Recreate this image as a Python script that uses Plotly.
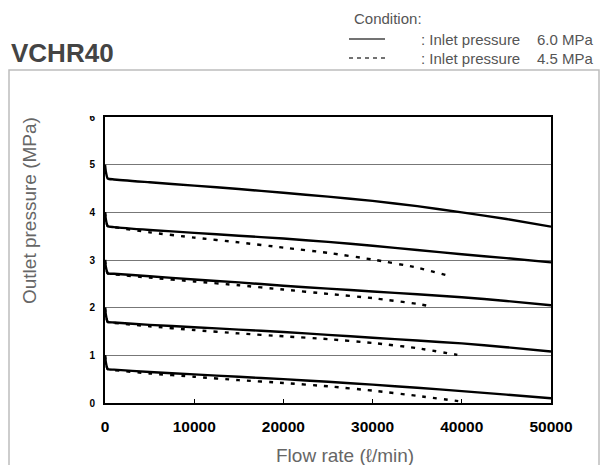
import plotly.graph_objects as go

# ---------------- data ----------------
flow_60 = [0, 100, 300, 1000, 5000, 10000, 15000, 20000, 25000, 30000, 35000, 40000, 45000, 50000]
p60_set5 = [5.0, 4.85, 4.71, 4.69, 4.63, 4.56, 4.49, 4.41, 4.33, 4.24, 4.13, 4.00, 3.86, 3.70]
p60_set4 = [4.0, 3.85, 3.71, 3.69, 3.63, 3.57, 3.51, 3.45, 3.38, 3.30, 3.21, 3.12, 3.04, 2.95]
p60_set3 = [3.0, 2.85, 2.72, 2.71, 2.66, 2.59, 2.53, 2.46, 2.40, 2.34, 2.28, 2.22, 2.14, 2.05]
p60_set2 = [2.0, 1.85, 1.70, 1.69, 1.64, 1.59, 1.54, 1.49, 1.43, 1.37, 1.31, 1.25, 1.17, 1.08]
p60_set1 = [1.0, 0.85, 0.71, 0.70, 0.65, 0.60, 0.55, 0.50, 0.445, 0.385, 0.32, 0.25, 0.175, 0.10]

flow_45_set4 = [0, 100, 300, 1000, 5000, 10000, 15000, 20000, 25000, 30000, 35000, 38900]
p45_set4 = [4.0, 3.85, 3.71, 3.69, 3.58, 3.47, 3.37, 3.26, 3.15, 3.01, 2.84, 2.65]
flow_45_set3 = [0, 100, 300, 1000, 5000, 10000, 15000, 20000, 25000, 30000, 35000, 36700]
p45_set3 = [3.0, 2.85, 2.72, 2.70, 2.63, 2.55, 2.47, 2.38, 2.29, 2.20, 2.08, 2.02]
flow_45_set2 = [0, 100, 300, 1000, 5000, 10000, 15000, 20000, 25000, 30000, 35000, 39500]
p45_set2 = [2.0, 1.85, 1.70, 1.68, 1.61, 1.53, 1.46, 1.40, 1.34, 1.26, 1.15, 1.01]
flow_45_set1 = [0, 100, 300, 1000, 5000, 10000, 15000, 20000, 25000, 30000, 35000, 39600]
p45_set1 = [1.0, 0.85, 0.71, 0.69, 0.62, 0.55, 0.48, 0.42, 0.35, 0.26, 0.15, 0.04]

x_ticks = [0, 10000, 20000, 30000, 40000, 50000]
y_ticks = [0, 1, 2, 3, 4, 5, 6]

# ---------------- figure ----------------
W, H = 606, 465
L, R, T, B = 105, 55, 117, 62
PW, PH = W - L - R, H - T - B


def px(x):
    return (x - L) / PW


def py(y):
    return (H - B - y) / PH


fig = go.Figure()

solid = [p60_set5, p60_set4, p60_set3, p60_set2, p60_set1]
for s in solid:
    fig.add_trace(go.Scatter(x=flow_60, y=s, mode="lines",
                             line=dict(color="black", width=2.4, shape="spline", smoothing=0.5),
                             showlegend=False, hoverinfo="skip"))

dashed = [(flow_45_set4, p45_set4), (flow_45_set3, p45_set3),
          (flow_45_set2, p45_set2), (flow_45_set1, p45_set1)]
for fx, fy in dashed:
    fig.add_trace(go.Scatter(x=fx, y=fy, mode="lines",
                             line=dict(color="black", width=2.4, dash="4px,7px", shape="spline", smoothing=0.5),
                             showlegend=False, hoverinfo="skip"))

fig.update_layout(
    width=W, height=H,
    margin=dict(l=L, r=R, t=T, b=B),
    paper_bgcolor="white", plot_bgcolor="white",
    font=dict(family="Liberation Sans"),
)

fig.update_xaxes(range=[0, 50000], tickvals=x_ticks, ticktext=[str(v) for v in x_ticks],
                 showgrid=False, zeroline=False,
                 showline=True, linecolor="black", linewidth=2, mirror=True,
                 ticks="inside", ticklen=4, tickcolor="black", ticklabelstandoff=8,
                 tickfont=dict(family="Liberation Sans", size=15.5, color="black", weight="bold"))
fig.update_yaxes(range=[0, 6], tickvals=y_ticks, ticktext=[str(v) for v in y_ticks],
                 showgrid=True, gridcolor="#777", gridwidth=1, zeroline=False,
                 showline=True, linecolor="black", linewidth=2, mirror=True,
                 ticks="", ticklabelstandoff=6,
                 tickfont=dict(family="Liberation Sans", size=10, color="black", weight="bold"))

# cover the upper part of the clipped "6" label
fig.add_shape(type="rect", xref="paper", yref="paper",
              x0=px(80), x1=px(102), y0=py(95), y1=py(116),
              fillcolor="white", line=dict(width=0), layer="above")

# outer light frame
fig.add_shape(type="path", xref="paper", yref="paper",
              path=f"M {px(9)} {py(470)} L {px(9)} {py(70)} L {px(599)} {py(70)} L {px(599)} {py(470)}",
              line=dict(color="#bdbdbd", width=1.5), layer="below")

# title
fig.add_annotation(text="<b>VCHR40</b>", x=px(9), y=py(53), xref="paper", yref="paper",
                   xanchor="left", yanchor="middle", showarrow=False,
                   font=dict(family="Liberation Sans", size=26, color="#444"))

# legend
fig.add_annotation(text="Condition:", x=px(352), y=py(19), xref="paper", yref="paper",
                   xanchor="left", yanchor="middle", showarrow=False,
                   font=dict(family="Liberation Sans", size=15, color="#555"))
for yy, lab, dash in [(39, "6.0 MPa", "solid"), (58, "4.5 MPa", "4px,4px")]:
    fig.add_shape(type="line", xref="paper", yref="paper",
                  x0=px(349), x1=px(385), y0=py(yy), y1=py(yy),
                  line=dict(color="#444", width=1.5, dash=dash))
    fig.add_annotation(text=": Inlet pressure", x=px(419), y=py(yy), xref="paper", yref="paper",
                       xanchor="left", yanchor="middle", showarrow=False,
                       font=dict(family="Liberation Sans", size=15, color="#555"))
    fig.add_annotation(text=lab, x=px(596), y=py(yy), xref="paper", yref="paper",
                       xanchor="right", yanchor="middle", showarrow=False,
                       font=dict(family="Liberation Sans", size=15, color="#555"))

# axis titles
fig.add_annotation(text="Outlet pressure (MPa)", x=px(29), y=py(211), xref="paper", yref="paper",
                   xanchor="center", yanchor="middle", textangle=-90, showarrow=False,
                   font=dict(family="Liberation Sans", size=19, color="#666"))
fig.add_annotation(text="Flow rate (ℓ/min)", x=px(345), y=py(455), xref="paper", yref="paper",
                   xanchor="center", yanchor="middle", showarrow=False,
                   font=dict(family="Liberation Sans", size=19, color="#666"))

fig.write_html("out.html", config={"displayModeBar": False},
               post_script="document.body.style.margin='0';document.body.style.overflow='hidden';")
